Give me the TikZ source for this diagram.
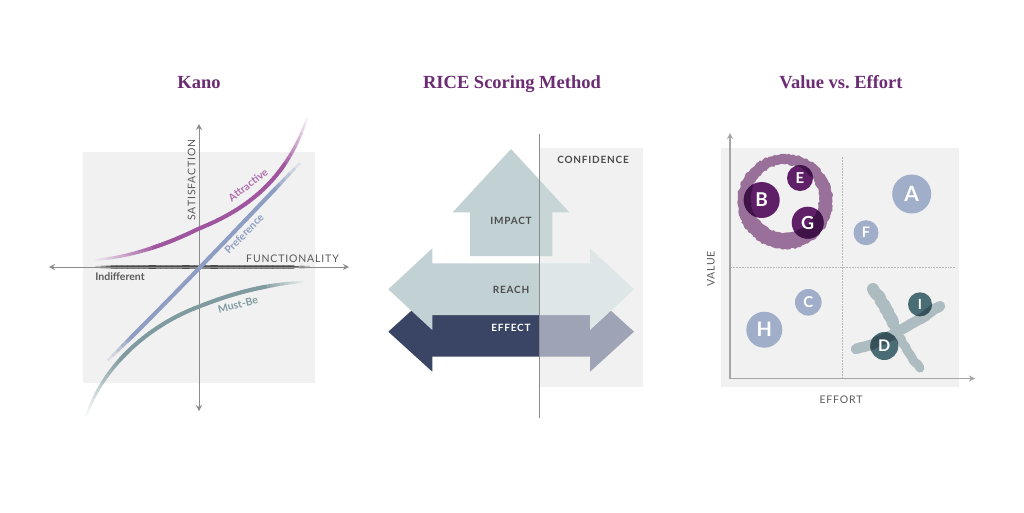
\documentclass[tikz,border=0pt]{standalone}
\usepackage{fontspec}
\setmainfont{Lato}
\newfontfamily\titlefont{Liberation Serif}[BoldFont={Liberation Serif Bold}]
\newfontfamily\capsfont{Lato}[LetterSpace=8]
\usetikzlibrary{decorations.pathmorphing,arrows.meta}
\definecolor{ttl}{HTML}{6B2C73}
\definecolor{panel}{HTML}{F1F1F1}
\definecolor{axisc}{HTML}{8C8C8C}
\definecolor{attr}{HTML}{A0569F}
\definecolor{pref}{HTML}{8E9DC2}
\definecolor{must}{HTML}{7F9BA0}
\definecolor{indif}{HTML}{4A4A4A}
\definecolor{lab}{HTML}{5A5A5A}
\definecolor{sage}{HTML}{C2D1D4}
\definecolor{sagelt}{HTML}{DEE6E8}
\definecolor{sagemid}{HTML}{C7D5D7}
\definecolor{navy}{HTML}{3A4565}
\definecolor{navylt}{HTML}{9EA3B5}
\definecolor{bub}{HTML}{A0AEC9}
\definecolor{plum}{HTML}{5F2068}
\definecolor{plumdk}{HTML}{3F1248}
\definecolor{ringc}{HTML}{98709A}
\definecolor{teal}{HTML}{4A6C75}
\definecolor{tealdk}{HTML}{365159}
\definecolor{xstroke}{HTML}{ADBCC0}
\tikzset{
 x=1pt,y=-1pt,
 titlenode/.style={font=\titlefont\bfseries\fontsize{18.5}{20}\selectfont,text=ttl,inner sep=0pt,anchor=base},
 axlabel/.style={font=\capsfont\fontsize{10.5}{12}\selectfont,text=lab,inner sep=0pt},
 boldlabel/.style={font=\capsfont\bfseries\fontsize{10}{12}\selectfont,text=lab!85!black,inner sep=0pt},
 curvelabel/.style={font=\bfseries\fontsize{10.5}{12}\selectfont,inner sep=0pt},
 axisline/.style={draw=axisc,line width=.9pt,{Stealth[length=6pt,width=6pt]}-{Stealth[length=6pt,width=6pt]}},
 axisone/.style={draw=black!35,line width=1.3pt,-{Stealth[length=6pt,width=6pt]}},
 gridline/.style={draw=black!28,line width=.55pt,densely dotted},
 bubnode/.style={circle,inner sep=0pt,text=white,font=\bfseries},
}
% \ctrl sets P1,P2,P3; \fadecurve: colour,width,x0,y0,start opacity,end opacity,fade fraction
\newcommand{\ctrl}[6]{\def\bx{#1}\def\by{#2}\def\cx{#3}\def\cy{#4}\def\dx{#5}\def\dy{#6}}
\newcommand{\fadecurve}[7]{%
 \foreach \i in {0,...,39}{%
  \pgfmathsetmacro{\ta}{\i/40}\pgfmathsetmacro{\tb}{(\i+1)/40}%
  \pgfmathsetmacro{\xa}{(1-\ta)^3*#3+3*(1-\ta)^2*\ta*\bx+3*(1-\ta)*\ta^2*\cx+\ta^3*\dx}%
  \pgfmathsetmacro{\ya}{(1-\ta)^3*#4+3*(1-\ta)^2*\ta*\by+3*(1-\ta)*\ta^2*\cy+\ta^3*\dy}%
  \pgfmathsetmacro{\xb}{(1-\tb)^3*#3+3*(1-\tb)^2*\tb*\bx+3*(1-\tb)*\tb^2*\cx+\tb^3*\dx}%
  \pgfmathsetmacro{\yb}{(1-\tb)^3*#4+3*(1-\tb)^2*\tb*\by+3*(1-\tb)*\tb^2*\cy+\tb^3*\dy}%
  \pgfmathsetmacro{\op}{min(1,#5+(1-#5)*min(1,\ta/#7))*min(1,#6+(1-#6)*min(1,(1-\ta)/#7))}%
  \pgfmathsetmacro{\wd}{#2*(0.55+0.45*\op)}%
  \ifdim\op pt>0.995pt
   \draw[draw=#1,line width=\wd pt,line cap=round] (\xa,\ya) -- (\xb,\yb);%
  \else
   \draw[draw=#1,line width=\wd pt,opacity=\op,line cap=butt] (\xa,\ya) -- (\xb,\yb);%
  \fi
 }}
\newcommand{\ringpath}[1]{%
 \pgfmathsetseed{4711}%
 \path[fill=#1,even odd rule,decorate,decoration={random steps,segment length=2.2pt,amplitude=.9pt}]
  (785,201.5) circle[radius=47.5] (785,198.5) circle[radius=34];}
\newcommand{\xstrokes}[1]{%
 \pgfmathsetseed{99}%
 \draw[draw=#1,line width=9pt,line cap=round,line join=round,decorate,decoration={random steps,segment length=3pt,amplitude=.7pt}]
  (890,318) .. controls (900,340) and (910,356) .. (920,368);
 \draw[draw=#1,line width=12pt,line cap=round,line join=round,decorate,decoration={random steps,segment length=3pt,amplitude=.8pt}]
  (873,289) .. controls (880,298) and (886,308) .. (893,323);
 \draw[draw=#1,line width=10.5pt,line cap=round,line join=round,decorate,decoration={random steps,segment length=3pt,amplitude=.8pt}]
  (856,349) .. controls (883,342) and (912,325) .. (940,306);}
\newcommand{\arrowimpact}{(511,149) -- (569.3,212.3) -- (552.3,212.3) -- (552.3,256) -- (470,256) -- (470,212.3) -- (452.7,212.3) -- cycle}
\newcommand{\arrowreach}{(388.3,289.3) -- (432.3,248.3) -- (432.3,263.3) -- (590,263.3) -- (590,248.3) -- (634,289.3) -- (590,330) -- (590,315) -- (432.3,315) -- (432.3,330) -- cycle}
\newcommand{\arroweffect}{(388.3,331.7) -- (432.3,291.7) -- (432.3,315) -- (590,315) -- (590,291.7) -- (634,331.7) -- (590,371.7) -- (590,356.7) -- (432.3,356.7) -- (432.3,371.7) -- cycle}
\begin{document}
\begin{tikzpicture}
\useasboundingbox (0,0) rectangle (1024,512);
\fill[white] (0,0) rectangle (1024,512);
% titles
\node[titlenode] (t1) at (199,88.5) {Kano};
\node[titlenode] (t2) at (512,88.5) {RICE Scoring Method};
\node[titlenode] (t3) at (841,88.5) {Value vs.~Effort};

% --- Kano
\fill[panel] (83,152) rectangle (315,383);
\ctrl{160}{267}{240}{267}{310}{267}\fadecurve{indif}{3.2}{90}{267}{0}{0}{.09}
\coordinate (kt) at (199,124);\coordinate (kb) at (199,411);
\coordinate (kl) at (49,267);\coordinate (kr) at (349,267);
\draw[axisline] (kt) -- (kb);
\draw[axisline] (kl) -- (kr);
\ctrl{130}{258}{170}{243}{198}{229}\fadecurve{attr}{4}{92}{260}{0}{1}{.55}
\ctrl{240}{212}{285}{185}{307}{118}\fadecurve{attr}{4}{198}{229}{1}{0}{.3}
\ctrl{165}{305}{233}{233}{300}{163}\fadecurve{pref}{4}{103}{365}{0}{0}{.14}
\ctrl{100}{370}{145}{327}{198}{307}\fadecurve{must}{4}{85}{420}{0}{1}{.45}
\ctrl{235}{292}{270}{284}{303}{282}\fadecurve{must}{4}{198}{307}{1}{0}{.4}
\node[axlabel,rotate=90] (ksat) at (191.5,180) {SATISFACTION};
\node[axlabel] (kfun) at (292.5,259) {FUNCTIONALITY};
\node[font=\bfseries\fontsize{10.5}{12}\selectfont,text=lab,inner sep=0pt] (kind) at (120,277) {Indifferent};
\node[curvelabel,text=attr!85,rotate=37] (katt) at (248,185) {Attractive};
\node[curvelabel,text=pref,rotate=46] (kpre) at (244,234) {Preference};
\node[curvelabel,text=must,rotate=14] (kmus) at (238,304.5) {Must-Be};

% --- RICE
\fill[panel] (540,148.3) rectangle (643.3,386.7);
\begin{scope}
 \clip (380,120) rectangle (539.7,430);
 \fill[navy] \arroweffect;
 \fill[sage] \arrowreach;
 \fill[sage] \arrowimpact;
\end{scope}
\begin{scope}
 \clip (539.7,120) rectangle (650,430);
 \fill[navylt] \arroweffect;
 \fill[sagelt] \arrowreach;
 \fill[sagemid] \arrowimpact;
\end{scope}
\coordinate (rt) at (539.7,134);\coordinate (rb) at (539.7,418);
\draw[draw=axisc,line width=.9pt] (rt) -- (rb);
\node[boldlabel] (rimp) at (511,220.7) {IMPACT};
\node[boldlabel] (rrea) at (511,289.7) {REACH};
\node[boldlabel,text=white] (reff) at (511,328) {EFFECT};
\node[boldlabel] (rcon) at (593,160) {CONFIDENCE};

% --- Value vs Effort
\fill[panel] (721,148.3) rectangle (959,386.7);
\coordinate (vo) at (730,378.5);\coordinate (vt) at (730,133);\coordinate (vr) at (975,378.5);
\coordinate (g1) at (842.7,156.7);\coordinate (g2) at (842.7,378.5);
\coordinate (g3) at (731,267.7);\coordinate (g4) at (955,267.7);
\draw[gridline] (g1) -- (g2);
\draw[gridline] (g3) -- (g4);
\draw[axisone] (vo) -- (vt);
\draw[axisone] (vo) -- (vr);
\ringpath{ringc}
\xstrokes{xstroke}
% bubbles
\node[bubnode,fill=plum,minimum size=36pt] (bB) at (761.7,200) {};
\node[bubnode,fill=plum,minimum size=26pt] (bE) at (800,178) {};
\node[bubnode,fill=plum,minimum size=32pt] (bG) at (807.7,222.7) {};
\foreach \c/\r in {{(761.7,200)}/18,{(800,178)}/13,{(807.7,222.7)}/16}{
 \begin{scope}
  \clip \c circle[radius=\r];
  \ringpath{plumdk}
 \end{scope}}
\node[bubnode,fill=teal,minimum size=24pt] (bI) at (920,304.3) {};
\node[bubnode,fill=teal,minimum size=28pt] (bD) at (884.3,346) {};
\foreach \c/\r in {{(920,304.3)}/12,{(884.3,346)}/14}{
 \begin{scope}
  \clip \c circle[radius=\r];
  \xstrokes{tealdk}
 \end{scope}}
\node[bubnode,fill=bub,minimum size=39pt] (bA) at (911.7,194) {};
\node[bubnode,fill=bub,minimum size=25pt] (bF) at (866,232.7) {};
\node[bubnode,fill=bub,minimum size=26.6pt] (bC) at (808.3,302.3) {};
\node[bubnode,fill=bub,minimum size=36pt] (bH) at (764.3,329.7) {};
\foreach \c/\t/\s in {{(761.7,200)}/B/19,{(800,178)}/E/15,{(807.7,222.7)}/G/18,{(920,304.3)}/I/14,{(884.3,346)}/D/16,{(911.7,194)}/A/21,{(866,232.7)}/F/14.5,{(808.3,302.3)}/C/15,{(764.3,329.7)}/H/20}{
 \node[inner sep=0pt,text=white,font=\bfseries\fontsize{\s}{\s}\selectfont] at \c {\t};}
\node[axlabel] (vef) at (841,400) {EFFORT};
\node[axlabel,rotate=90] (vva) at (711,269) {VALUE};
\end{tikzpicture}
\end{document}
